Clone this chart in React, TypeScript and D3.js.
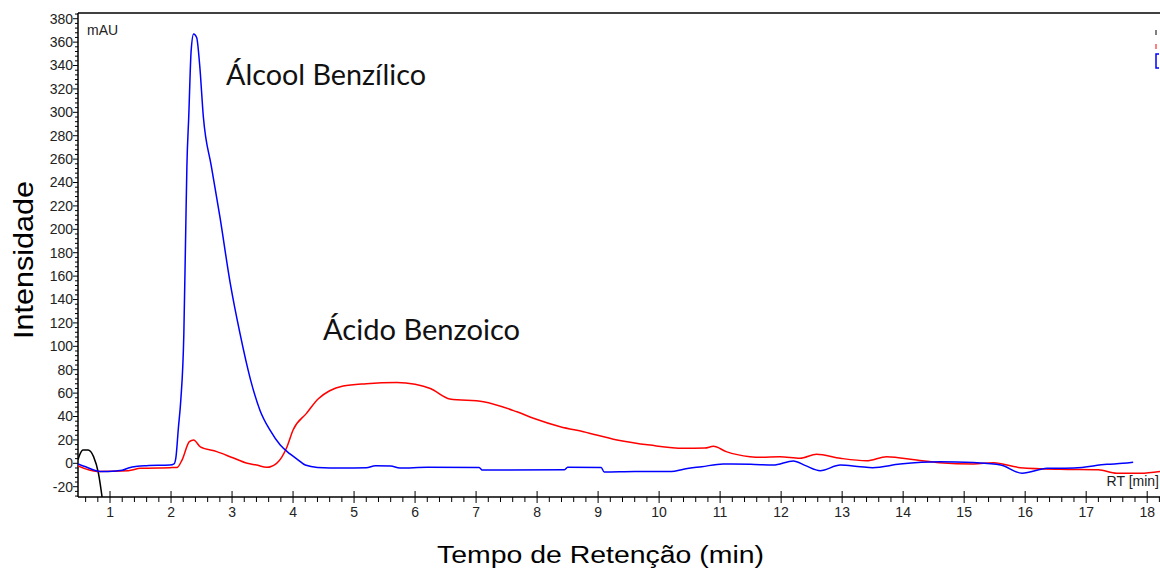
import React from "react";
import * as d3 from "d3";

const blueT = [0.475,0.6,0.84,1.1,1.2,1.3,1.45,1.6,1.98,2.05,2.08,2.12,2.16,2.21,2.24,2.26,2.29,2.33,2.37,2.42,2.47,2.53,2.66,2.8,2.97,3.13,3.3,3.46,3.62,3.79,3.95,4.08,4.2,4.4,4.8,5.2,5.35,5.6,5.75,6.2,7.05,7.1,8.45,8.5,9.05,9.1,9.6,10.2,10.4,10.7,11.05,11.5,11.87,12.2,12.4,12.64,12.97,13.3,13.5,13.95,14.6,15.15,15.6,15.95,16.36,16.8,17.34,17.6,17.77];
const blueV = [-0.5,-3,-7,-6.5,-6,-4,-2.5,-2,-1.5,-0.5,5,30,54,111,197,254,296,353,367,364,340,296,254,211,154,111,72,45,28.5,15.6,8,3,-1.5,-3.5,-4,-3.8,-2,-2.3,-4,-3.4,-3.5,-5.7,-5.5,-3.4,-3.5,-7.4,-7,-7,-5,-2.9,-0.6,-0.8,-1.5,2,-2,-6.3,-1.5,-3,-3.7,-0.6,1.4,0.6,-1.5,-8.5,-4.3,-4,-0.9,0,0.9];

const redT = [0.475,0.79,1.3,1.5,1.98,2.1,2.18,2.3,2.37,2.48,2.75,3.0,3.25,3.4,3.57,3.73,3.9,4.0,4.22,4.41,4.6,4.82,5.2,5.7,6.0,6.25,6.57,7.12,7.67,7.94,8.38,8.76,9.31,9.85,10.4,10.75,10.89,11.1,11.49,11.66,11.98,12.31,12.58,12.97,13.4,13.73,14.22,14.6,15.15,15.48,15.92,16.57,17.2,17.5,17.89,18.21];
const redV = [-2.3,-7,-6.3,-4.3,-3.7,-3.5,2.8,18.5,20,14,10,5,0,-1.5,-3.4,0,14,28.5,42.7,55,62,66,68,69,67.5,64,55,52.7,44,38.5,31.3,27,20,15.6,12.8,13,14.5,10,5.7,5.1,5.7,4.3,7.7,4.3,2.2,5.7,2.8,0.5,-0.6,0.5,-3.7,-5.1,-5.5,-8.5,-8.5,-7];

const blackT = [0.475,0.5,0.56,0.64,0.73,0.81,0.87,0.9];
const blackV = [3,7,11.4,11.4,5.7,-8.5,-28.8,-40];

const xTickLabels = d3.range(1, 19);
const yTickLabels = d3.range(-20, 381, 20);

const W = 1160, H = 571;
const L = 78, R = 1160, T = 13, B = 497;

export default function App() {
  const x = d3.scaleLinear().domain([0.475, 18.21]).range([L, R]);
  const y = d3.scaleLinear().domain([-28.8, 384.9]).range([B, T]);
  const line = d3.line<[number, number]>().x(d => x(d[0])).y(d => y(d[1])).curve(d3.curveMonotoneX);
  const pts = (ts: number[], vs: number[]) => ts.map((t, i) => [t, vs[i]] as [number, number]);
  const minorX = d3.range(0.6, 18.21, 0.2).filter(v => Math.abs(v - Math.round(v)) > 0.01);
  const minorY = d3.range(-28, 385, 4).filter(v => Math.abs(v % 20) > 0.01);
  const tickFont = "'Liberation Sans Narrow', 'Arial Narrow', 'Liberation Sans', Arial, sans-serif";
  return (
    <svg width={W} height={H} style={{ position: "absolute", left: 0, top: 0, background: "#fff" }}>
      <defs>
        <clipPath id="plot"><rect x={L} y={T} width={R - L} height={B - T} /></clipPath>
      </defs>
      <rect x={0} y={0} width={W} height={H} fill="#fff" />
      <line x1={L} x2={R} y1={T} y2={T} stroke="#000" strokeWidth={1.5} />
      <line x1={L} x2={L} y1={T} y2={B} stroke="#000" strokeWidth={1.5} />
      <line x1={L} x2={R} y1={B} y2={B} stroke="#000" strokeWidth={1.5} />
      {yTickLabels.map(v => (
        <g key={"y" + v}>
          <line x1={L - 5} x2={L} y1={y(v)} y2={y(v)} stroke="#000" strokeWidth={1} />
          <text x={73} y={y(v)} dy="0.35em" textAnchor="end" fontSize={14} fontFamily={tickFont} fill="#222">{v}</text>
        </g>
      ))}
      {minorY.map(v => (
        <line key={"my" + v} x1={L - 3} x2={L} y1={y(v)} y2={y(v)} stroke="#000" strokeWidth={1} />
      ))}
      {xTickLabels.map(v => (
        <g key={"x" + v}>
          <line x1={x(v)} x2={x(v)} y1={B - 6} y2={B + 6} stroke="#000" strokeWidth={1} />
          <text x={x(v)} y={517} textAnchor="middle" fontSize={14} fontFamily={tickFont} fill="#222">{v}</text>
        </g>
      ))}
      {minorX.map(v => (
        <line key={"mx" + v} x1={x(v)} x2={x(v)} y1={B} y2={B + 5} stroke="#000" strokeWidth={1} />
      ))}
      <text x={87} y={35} fontSize={14} fontFamily={tickFont} fill="#222">mAU</text>
      <text x={1159} y={486} textAnchor="end" fontSize={14} fontFamily={tickFont} fill="#222">RT [min]</text>
      <g clipPath="url(#plot)" fill="none" strokeLinejoin="round">
        <path d={line(pts(blackT, blackV)) || ""} stroke="#000" strokeWidth={1.5} />
        <path d={line(pts(redT, redV)) || ""} stroke="#ff0000" strokeWidth={1.5} />
        <path d={line(pts(blueT, blueV)) || ""} stroke="#0000ff" strokeWidth={1.5} />
      </g>
      <line x1={1156} x2={1156} y1={30} y2={35} stroke="#000" strokeWidth={1} />
      <line x1={1156} x2={1156} y1={44} y2={49} stroke="#ff0000" strokeWidth={1} />
      <path d="M1159,54 H1156 V68 H1159" fill="none" stroke="#0000ff" strokeWidth={1.5} />
      <text x={226} y={85} fontSize={28} fontFamily="Lato, 'Open Sans', sans-serif" fill="#111" textLength={200} lengthAdjust="spacingAndGlyphs">Álcool Benzílico</text>
      <text x={323} y={340} fontSize={28} fontFamily="Lato, 'Open Sans', sans-serif" fill="#111" textLength={197} lengthAdjust="spacingAndGlyphs">Ácido Benzoico</text>
      <text x={437} y={563} fontSize={23} fontFamily="'Liberation Sans', Arial, sans-serif" fill="#000" textLength={327} lengthAdjust="spacingAndGlyphs">Tempo de Retenção (min)</text>
      <text transform="translate(33,339) rotate(-90)" x={0} y={0} fontSize={27} fontFamily="'Liberation Sans', Arial, sans-serif" fill="#000" textLength={158} lengthAdjust="spacingAndGlyphs">Intensidade</text>
    </svg>
  );
}
